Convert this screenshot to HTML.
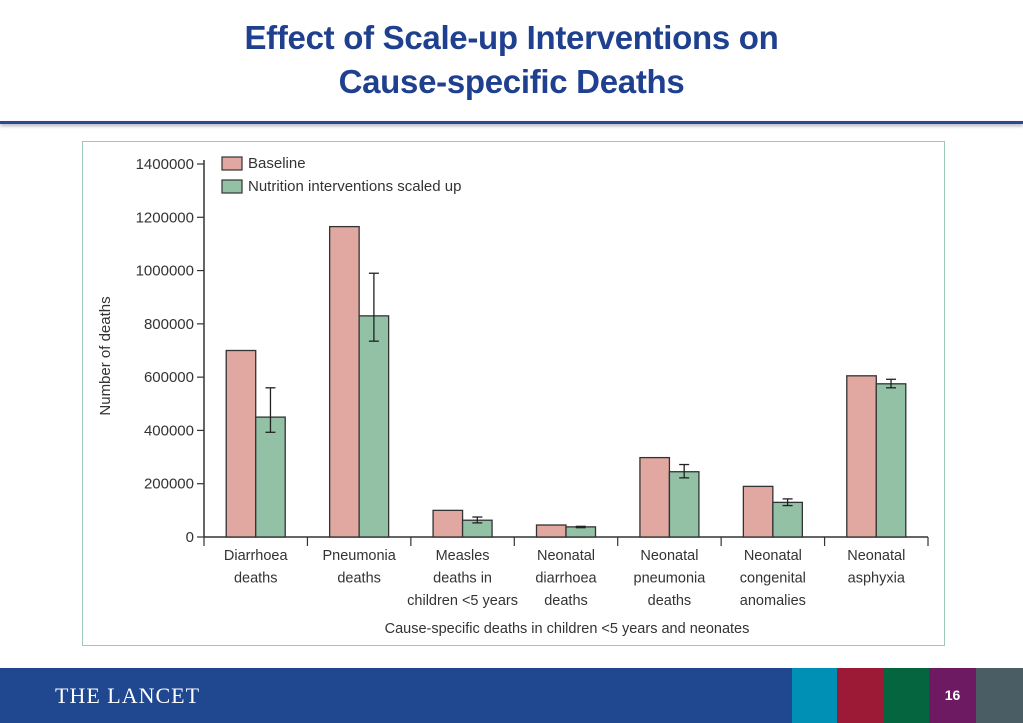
<!DOCTYPE html>
<html><head><meta charset="utf-8"><style>
body{margin:0;width:1023px;height:723px;overflow:hidden;background:#fff;font-family:"Liberation Sans",sans-serif;position:relative}
#title{position:absolute;top:16px;left:0;width:1023px;text-align:center;color:#1f3f8f;font-weight:bold;font-size:33px;line-height:44px;letter-spacing:-0.3px}
#rule{position:absolute;top:121px;left:0;width:1023px;height:3px;background:#2b4a8c;box-shadow:0 2px 3px #aab}
#box{position:absolute;left:82px;top:141px;width:861px;height:503px;border:1px solid #9cc9b4}
#footer{position:absolute;left:0;top:668px;width:1023px;height:55px;background:#1f4890}
.blk{position:absolute;top:668px;height:55px}
</style></head><body>
<div id="title">Effect of Scale-up Interventions on<br>Cause-specific Deaths</div>
<div id="rule"></div>
<div id="box"></div>
<svg id="chart" width="1023" height="723" style="position:absolute;left:0;top:0" font-family="Liberation Sans, sans-serif"></svg>
<div id="footer"><span style="position:absolute;left:55px;top:15px;color:#fff;font-family:'Liberation Serif',serif;font-size:22px;letter-spacing:1px">THE LANCET</span></div>
<div class="blk" style="left:792px;width:45px;background:#0090b5"></div>
<div class="blk" style="left:837px;width:46px;background:#9c1a35"></div>
<div class="blk" style="left:883px;width:46px;background:#04653e"></div>
<div class="blk" style="left:929px;width:47px;background:#6e1a62;color:#fff;font-weight:bold;font-size:14px;text-align:center;line-height:55px">16</div>
<div class="blk" style="left:976px;width:47px;background:#4a5d64"></div>
<script>
const categories=[["Diarrhoea","deaths"],["Pneumonia","deaths"],["Measles","deaths in","children <5 years"],["Neonatal","diarrhoea","deaths"],["Neonatal","pneumonia","deaths"],["Neonatal","congenital","anomalies"],["Neonatal","asphyxia"]];
const baseline=[700000,1165000,100000,45000,298000,190000,605000];
const scaled=[450000,830000,63000,38000,245000,130000,575000];
const errLow=[393000,735000,53000,35000,222000,118000,560000];
const errHigh=[560000,990000,75000,40000,272000,143000,592000];
const yTicks=[0,200000,400000,600000,800000,1000000,1200000,1400000];
const yLabels=["0","200000","400000","600000","800000","1000000","1200000","1400000"];
const svg=document.getElementById('chart');const NS='http://www.w3.org/2000/svg';
const x0=204,x1=928,y0=537,yTop=164,yMax=1400000;
const y=v=>y0-(v/yMax)*(y0-yTop);
const bw=(x1-x0)/categories.length;
const cx=i=>x0+bw*(i+0.5);
function mk(t,a){const e=document.createElementNS(NS,t);for(const k in a)e.setAttribute(k,a[k]);svg.appendChild(e);return e;}
let e=mk('line',{x1:x0,y1:yTop-4,x2:x0,y2:y0,stroke:'#333','stroke-width':1.5});

e=mk('line',{x1:x0,y1:y0,x2:x1,y2:y0,stroke:'#333','stroke-width':1.5});

yTicks.forEach((v,i)=>{mk('line',{x1:x0-7,x2:x0,y1:y(v),y2:y(v),stroke:'#333','stroke-width':1.2});
const t=mk('text',{x:x0-10,y:y(v)+5,'text-anchor':'end','font-size':15,fill:'#333'});t.textContent=yLabels[i];
});
for(let i=0;i<=categories.length;i++){mk('line',{x1:x0+bw*i,x2:x0+bw*i,y1:y0,y2:y0+9,stroke:'#333','stroke-width':1.2});}
categories.forEach((c,i)=>{
const w=29.5;
let b=mk('rect',{x:cx(i)-w,y:y(baseline[i]),width:w,height:y0-y(baseline[i]),fill:'#e0a8a0',stroke:'#333','stroke-width':1.3});

b=mk('rect',{x:cx(i),y:y(scaled[i]),width:w,height:y0-y(scaled[i]),fill:'#92c1a6',stroke:'#333','stroke-width':1.3});

const ex=cx(i)+w/2;
mk('line',{x1:ex,x2:ex,y1:y(errLow[i]),y2:y(errHigh[i]),stroke:'#222','stroke-width':1.3});
mk('line',{x1:ex-5,x2:ex+5,y1:y(errLow[i]),y2:y(errLow[i]),stroke:'#222','stroke-width':1.3});
mk('line',{x1:ex-5,x2:ex+5,y1:y(errHigh[i]),y2:y(errHigh[i]),stroke:'#222','stroke-width':1.3});
c.forEach((ln,j)=>{const t=mk('text',{x:cx(i),y:560+j*22.5,'text-anchor':'middle','font-size':14.5,fill:'#333'});t.textContent=ln;
});
});
let t=mk('text',{x:567,y:633,'text-anchor':'middle','font-size':14.5,fill:'#333'});t.textContent='Cause-specific deaths in children <5 years and neonates';

t=mk('text',{x:0,y:0,'text-anchor':'middle','font-size':15,fill:'#333',transform:'translate(110,356) rotate(-90)'});t.textContent='Number of deaths';

[['#e0a8a0','Baseline',163],['#92c1a6','Nutrition interventions scaled up',186]].forEach(l=>{
const r=mk('rect',{x:222,y:l[2]-6,width:20,height:13,fill:l[0],stroke:'#333','stroke-width':1.2});

const tt=mk('text',{x:248,y:l[2]+5,'font-size':15,fill:'#333'});tt.textContent=l[1];
});
</script>
</body></html>
